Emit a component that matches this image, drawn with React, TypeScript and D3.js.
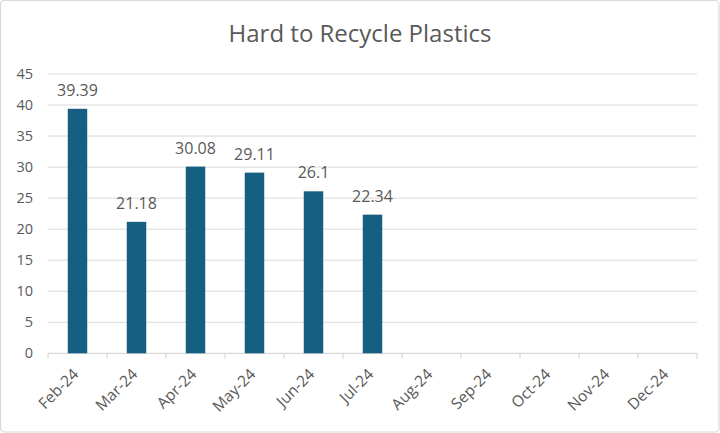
import React from "react";
import * as d3 from "d3";

const categories = ["Feb-24","Mar-24","Apr-24","May-24","Jun-24","Jul-24","Aug-24","Sep-24","Oct-24","Nov-24","Dec-24"];
const values: (number | null)[] = [39.39, 21.18, 30.08, 29.11, 26.1, 22.34, null, null, null, null, null];
const labels = ["39.39","21.18","30.08","29.11","26.1","22.34"];
const yTicks = [0,5,10,15,20,25,30,35,40,45];
const title = "Hard to Recycle Plastics";

const W = 720, H = 433;
const left = 48, right = 697, top = 74, bottom = 353.3;
const FONT = "'Open Sans', 'Noto Sans', sans-serif";
const TXT = "#595959";
const GRID = "#d9d9d9";
const BAR = "#156082";

export default function App() {
  const x = d3.scaleBand<string>().domain(categories).range([left, right]).paddingInner(0.67).paddingOuter(0.335);
  const xb = d3.scaleBand<string>().domain(categories).range([left, right]);
  const y = d3.scaleLinear().domain([0, 45]).range([bottom, top]);
  return (
    <svg width={W} height={H} style={{ position: "absolute", left: 0, top: 0 }}>
      <rect x={0.5} y={0.5} width={W - 1.5} height={H - 1.5} rx={4} fill="#fff" stroke={GRID} strokeWidth={1.2} />
      <text x={360} y={41.5} textAnchor="middle" fontFamily={FONT} fontSize={24} fill={TXT}>{title}</text>
      {yTicks.map((t) => (
        <g key={t}>
          {t > 0 && <line x1={left} x2={right} y1={y(t)} y2={y(t)} stroke={GRID} strokeWidth={1} />}
          <text x={33} y={y(t) + 5} textAnchor="end" fontFamily={FONT} fontSize={14.5} fill={TXT}>{t}</text>
        </g>
      ))}
      <line x1={left} x2={right} y1={bottom} y2={bottom} stroke={GRID} strokeWidth={1.2} />
      {categories.map((c) => (
        <line key={"t" + c} x1={xb(c)!} x2={xb(c)!} y1={bottom} y2={bottom + 5.5} stroke={GRID} strokeWidth={1.2} />
      ))}
      <line x1={right} x2={right} y1={bottom} y2={bottom + 5.5} stroke={GRID} strokeWidth={1.2} />
      {categories.map((c, i) => {
        const v = values[i];
        if (v == null) return null;
        return (
          <g key={c}>
            <rect x={x(c)!} y={y(v)} width={x.bandwidth()} height={bottom - y(v)} fill={BAR} />
            <text x={x(c)! + x.bandwidth() / 2} y={y(v) - 13} textAnchor="middle" fontFamily={FONT} fontSize={16} fill={TXT}>{labels[i]}</text>
          </g>
        );
      })}
      {categories.map((c) => {
        const cx = xb(c)! + xb.bandwidth() / 2 + 2;
        const cy = bottom + 22;
        return (
          <text key={"l" + c} x={cx} y={cy} transform={`rotate(-45 ${cx} ${cy})`} textAnchor="end" fontFamily={FONT} fontSize={15.5} fill={TXT}>{c}</text>
        );
      })}
    </svg>
  );
}
